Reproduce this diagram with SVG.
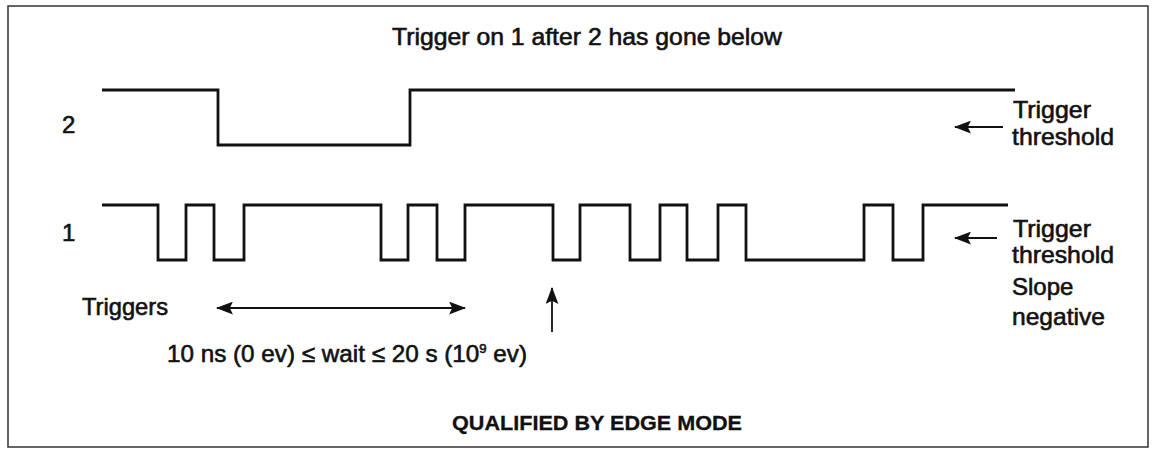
<svg xmlns="http://www.w3.org/2000/svg" width="1152" height="449" viewBox="0 0 1152 449">
<defs>
<style>
.t{font-family:"Liberation Sans",Arial,sans-serif;font-size:24px;fill:#111;stroke:#111;stroke-width:0.6}
.b{font-family:"Liberation Sans",Arial,sans-serif;font-size:21px;font-weight:bold;fill:#111;stroke:#111;stroke-width:0.3}
.sig{fill:none;stroke:#111;stroke-width:2.8;stroke-linejoin:miter}
.ar{fill:none;stroke:#111;stroke-width:1.8}
</style>
<marker id="ah" viewBox="0 0 16 12" refX="15" refY="6" markerWidth="17" markerHeight="13" markerUnits="userSpaceOnUse" orient="auto-start-reverse">
<path d="M0,0 L16,6 L0,12 L3,6 Z" fill="#111"/>
</marker>
</defs>
<rect width="1152" height="449" fill="#fff"/>
<rect x="8" y="6" width="1140" height="441" fill="none" stroke="#333" stroke-width="1.5"/>
<text class="t" x="392" y="45" textLength="390" lengthAdjust="spacingAndGlyphs">Trigger on 1 after 2 has gone below</text>
<g id="signal2">
<text class="t" x="62" y="133">2</text>
<path class="sig" d="M102,90 H218 V145 H410 V90 H1015"/>
</g>
<g id="signal1">
<text class="t" x="62" y="241">1</text>
<path class="sig" d="M102,205 H158 V260 H186 V205 H214 V260 H244 V205 H381 V260 H408 V205 H437 V260 H465 V205 H553 V260 H580 V205 H630 V260 H660 V205 H687 V260 H718 V205 H746 V260 H864 V205 H893 V260 H923 V205 H1008"/>
</g>
<g id="label2">
<text class="t" x="1013" y="118" textLength="78" lengthAdjust="spacingAndGlyphs">Trigger</text>
<text class="t" x="1012" y="145" textLength="102" lengthAdjust="spacingAndGlyphs">threshold</text>
</g>
<g id="label1">
<text class="t" x="1013" y="237" textLength="78" lengthAdjust="spacingAndGlyphs">Trigger</text>
<text class="t" x="1012" y="263" textLength="102" lengthAdjust="spacingAndGlyphs">threshold</text>
<text class="t" x="1012" y="295">Slope</text>
<text class="t" x="1012" y="325" textLength="93" lengthAdjust="spacingAndGlyphs">negative</text>
</g>
<g id="triggers">
<text class="t" x="82" y="315" textLength="86" lengthAdjust="spacingAndGlyphs">Triggers</text>
</g>
<g id="wait">
<text class="t" x="167" y="362" textLength="360" lengthAdjust="spacingAndGlyphs">10 ns (0 ev) ≤ wait ≤ 20 s (10<tspan dy="-9" font-size="13">9</tspan><tspan dy="9"> ev)</tspan></text>
</g>
<g id="connectors">
<line class="ar" x1="1003" y1="127" x2="955" y2="127" marker-end="url(#ah)"/>
<line class="ar" x1="997" y1="238" x2="955" y2="238" marker-end="url(#ah)"/>
<line class="ar" x1="217" y1="308" x2="465" y2="308" marker-start="url(#ah)" marker-end="url(#ah)"/>
<line class="ar" x1="552" y1="332" x2="552" y2="288" marker-end="url(#ah)"/>
</g>
<text class="b" x="452" y="430" textLength="290" lengthAdjust="spacingAndGlyphs">QUALIFIED BY EDGE MODE</text>
</svg>
